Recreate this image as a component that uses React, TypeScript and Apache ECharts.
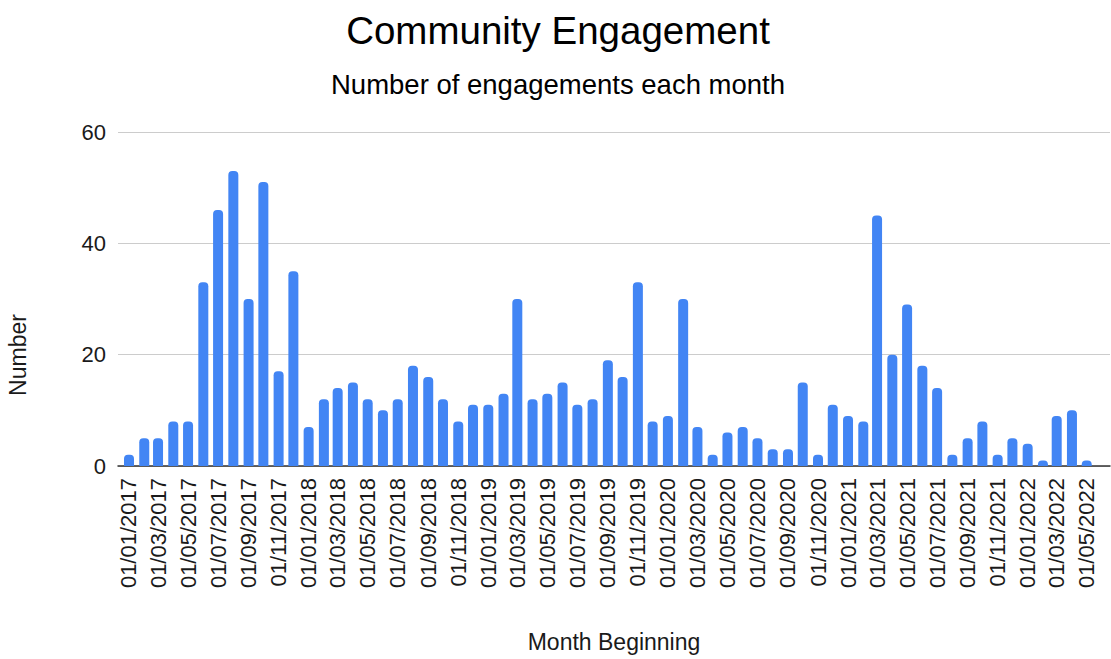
import React, { useEffect, useRef } from "react";
import * as echarts from "echarts";

const months: string[] = [
  "2017-01","2017-02","2017-03","2017-04","2017-05","2017-06","2017-07","2017-08","2017-09","2017-10","2017-11","2017-12",
  "2018-01","2018-02","2018-03","2018-04","2018-05","2018-06","2018-07","2018-08","2018-09","2018-10","2018-11","2018-12",
  "2019-01","2019-02","2019-03","2019-04","2019-05","2019-06","2019-07","2019-08","2019-09","2019-10","2019-11","2019-12",
  "2020-01","2020-02","2020-03","2020-04","2020-05","2020-06","2020-07","2020-08","2020-09","2020-10","2020-11","2020-12",
  "2021-01","2021-02","2021-03","2021-04","2021-05","2021-06","2021-07","2021-08","2021-09","2021-10","2021-11","2021-12",
  "2022-01","2022-02","2022-03","2022-04","2022-05",
];

const engagements: number[] = [
  2, 5, 5, 8, 8, 33, 46, 53, 30, 51, 17, 35,
  7, 12, 14, 15, 12, 10, 12, 18, 16, 12, 8, 11,
  11, 13, 30, 12, 13, 15, 11, 12, 19, 16, 33, 8,
  9, 30, 7, 2, 6, 7, 5, 3, 3, 15, 2, 11,
  9, 8, 45, 20, 29, 18, 14, 2, 5, 8, 2, 5,
  4, 1, 9, 10, 1,
];

const labelMonths: string[] = [
  "2017-01","2017-03","2017-05","2017-07","2017-09","2017-11",
  "2018-01","2018-03","2018-05","2018-07","2018-09","2018-11",
  "2019-01","2019-03","2019-05","2019-07","2019-09","2019-11",
  "2020-01","2020-03","2020-05","2020-07","2020-09","2020-11",
  "2021-01","2021-03","2021-05","2021-07","2021-09","2021-11",
  "2022-01","2022-03","2022-05",
];

const yTicks: number[] = [0, 20, 40, 60];

const TITLE = "Community Engagement";
const SUBTITLE = "Number of engagements each month";
const X_NAME = "Month Beginning";
const Y_NAME = "Number";

const DAY = 86400000;
// day number (UTC) of the first of a month "YYYY-MM"
const toDay = (m: string) => {
  const [y, mo] = m.split("-").map(Number);
  return Math.round(Date.UTC(y, mo - 1, 1) / DAY);
};
const pad = (n: number) => (n < 10 ? "0" + n : String(n));
const fmtDay = (v: number) => {
  const d = new Date(Math.round(v) * DAY);
  return pad(d.getUTCDate()) + "/" + pad(d.getUTCMonth() + 1) + "/" + d.getUTCFullYear();
};

const FONT = "'Liberation Sans', Arial, sans-serif";

export default function App() {
  const ref = useRef<HTMLDivElement>(null);
  useEffect(() => {
    if (!ref.current) return;
    const chart = echarts.init(ref.current, null, { renderer: "svg" });
    const first = toDay(months[0]);
    const last = toDay(months[months.length - 1]);
    chart.setOption({
      animation: false,
      backgroundColor: "#ffffff",
      textStyle: { fontFamily: FONT },
      title: [
        {
          text: TITLE,
          left: 553,
          top: 6,
          textAlign: "center",
          textStyle: { fontFamily: FONT, fontSize: 38.5, fontWeight: "normal", color: "#000000" },
        },
        {
          text: SUBTITLE,
          left: 553,
          top: 65.5,
          textAlign: "center",
          textStyle: { fontFamily: FONT, fontSize: 27.5, fontWeight: "normal", color: "#000000" },
        },
      ],
      grid: { left: 118, right: 1, top: 132, bottom: 193, containLabel: false },
      xAxis: {
        type: "value",
        min: first - 22.35,
        max: last + 47.3,
        axisLine: { show: true, onZero: false, lineStyle: { color: "#333333", width: 1.5 } },
        axisTick: { show: false },
        splitLine: { show: false },
        axisLabel: {
          customValues: labelMonths.map(toDay),
          formatter: (v: number) => fmtDay(v),
          rotate: 90,
          margin: 12,
          fontSize: 22,
          fontFamily: FONT,
          color: "#1a1a1a",
          hideOverlap: false,
        },
      },
      yAxis: {
        type: "value",
        min: yTicks[0],
        max: yTicks[yTicks.length - 1],
        interval: 20,
        axisLine: { show: false },
        axisTick: { show: false },
        splitLine: { show: true, lineStyle: { color: "#cccccc", width: 1 } },
        axisLabel: { fontSize: 22, fontFamily: FONT, color: "#1a1a1a", margin: 12 },
      },
      graphic: [
        {
          type: "text",
          x: 17.5,
          y: 355,
          rotation: Math.PI / 2,
          style: {
            text: Y_NAME,
            font: `23px ${FONT}`,
            fill: "#1a1a1a",
            textAlign: "center",
            textVerticalAlign: "middle",
          },
        },
        {
          type: "text",
          x: 614,
          y: 642,
          style: {
            text: X_NAME,
            font: `23px ${FONT}`,
            fill: "#1a1a1a",
            textAlign: "center",
            textVerticalAlign: "middle",
          },
        },
      ],
      series: [
        {
          type: "bar",
          data: months.map((m, i) => [toDay(m), engagements[i]]),
          barWidth: 10,
          itemStyle: { color: "#4285F4", borderRadius: [4, 4, 0, 0] },
        },
      ],
    });
    return () => chart.dispose();
  }, []);
  return (
    <div
      ref={ref}
      style={{ position: "fixed", left: 0, top: 0, width: 1111, height: 659, background: "#fff" }}
    />
  );
}
